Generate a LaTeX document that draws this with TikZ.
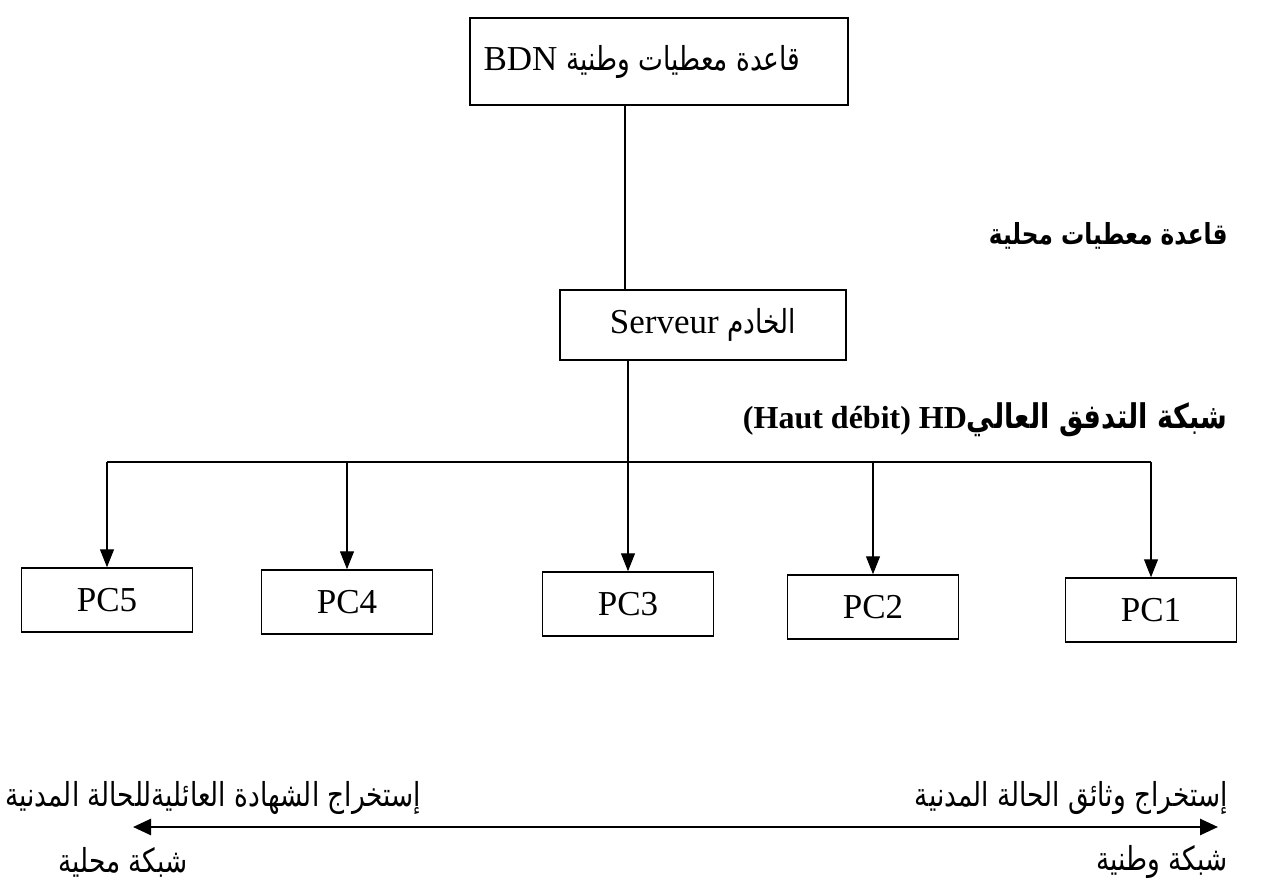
\documentclass[tikz,border=0pt]{standalone}
\usepackage{fontspec}
\setmainfont{Liberation Serif}
\newfontfamily\arabicfont[Script=Arabic,FakeStretch=0.8]{DejaVu Sans}
\TeXXeTstate=1
\usetikzlibrary{arrows.meta}
% Arabic runs, set right to left
\newcommand{\artxt}[1]{{\arabicfont\fontsize{16.5}{20}\selectfont\beginR #1\endR}}
\newcommand{\arbold}[2][14.5]{{\arabicfont\bfseries\fontsize{#1}{18}\selectfont\beginR #2\endR}}
\begin{document}
\begin{tikzpicture}[x=0.5pt,y=-0.5pt,
  box/.style={draw, line width=0.75pt, inner sep=0pt, font=\fontsize{17.5}{21}\selectfont},
  pcbox/.style={box, minimum width=85.5pt, minimum height=32pt},
  wire/.style={line width=0.6pt},
  arr/.style={wire, -{Triangle[length=9pt,width=7pt]}},
  span/.style={line width=1.3pt, {Triangle[length=9pt,width=8pt]}-{Triangle[length=9pt,width=8pt]}},
  lbl/.style={inner sep=0pt, font=\fontsize{17.5}{21}\selectfont},
  blbl/.style={inner sep=0pt, font=\fontsize{16}{19}\selectfont\bfseries}]
\path[use as bounding box] (0,0) rectangle (1262,892);

% national database and local server (text sits left of the box centre)
\node[box, minimum width=189pt, minimum height=43.5pt] (bdn) at (659,61.5)
  {BDN \artxt{قاعدة معطيات وطنية}\rule{17pt}{0pt}};
\node[box, minimum width=143pt, minimum height=35pt] (srv) at (703,325)
  {Serveur \artxt{الخادم}};

% workstations
\node[pcbox] (pc5) at (107,600) {PC5};
\node[pcbox] (pc4) at (347,602) {PC4};
\node[pcbox] (pc3) at (628,604) {PC3};
\node[pcbox] (pc2) at (873,607) {PC2};
\node[pcbox] (pc1) at (1151,610) {PC1};

% side labels
\node[blbl, anchor=east] (lloc) at (1228,236) {\arbold{قاعدة معطيات محلية}};
\node[blbl, anchor=east] (lhd) at (1228,420) {(Haut débit) HD\arbold[17]{شبكة التدفق العالي}};

% links
\coordinate (bar) at (0,462);
\draw[wire] (bdn.south -| 625,0) -- (srv.north -| 625,0);
\draw[arr] (srv.south -| pc3.north) -- (pc3.north);
\draw[wire] (pc5.north |- bar) -- (pc1.north |- bar);
\draw[arr] (pc5.north |- bar) -- (pc5.north);
\draw[arr] (pc4.north |- bar) -- (pc4.north);
\draw[arr] (pc2.north |- bar) -- (pc2.north);
\draw[arr] (pc1.north |- bar) -- (pc1.north);

% scope of the network: local to national
\node[lbl, anchor=west] (tl) at (5,798) {\artxt{إستخراج الشهادة العائليةللحالة المدنية}};
\node[lbl, anchor=east] (tr) at (1228,798) {\artxt{إستخراج وثائق الحالة المدنية}};
\coordinate (sl) at (133,827);
\coordinate (sr) at (1218,827);
\draw[span] (sl) -- (sr);
\node[lbl, anchor=east] (bl) at (188,862) {\artxt{شبكة محلية}};
\node[lbl, anchor=east] (br) at (1228,862) {\artxt{شبكة وطنية}};
\end{tikzpicture}
\end{document}
